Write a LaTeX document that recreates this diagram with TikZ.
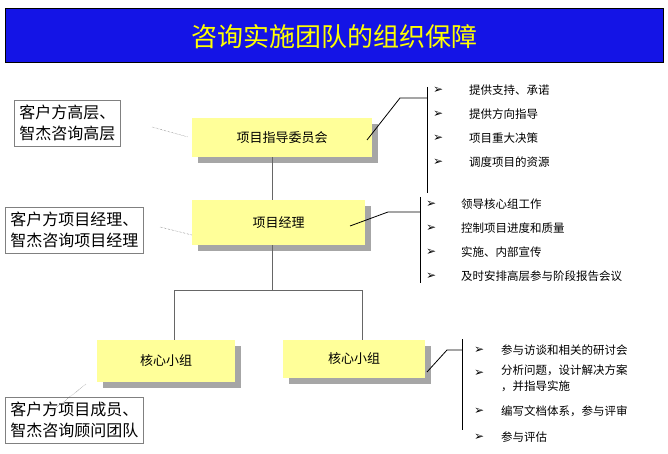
\documentclass[tikz,border=0pt]{standalone}
\usepackage{fontspec}
\newfontfamily\cjk{Noto Sans CJK SC}
\newfontfamily\arrfont{DejaVu Sans}
\definecolor{titleblue}{RGB}{20,20,230}
\definecolor{boxyellow}{RGB}{255,255,153}
\definecolor{titleyellow}{RGB}{255,255,0}
\tikzset{
  unit/.style={draw=none, fill=boxyellow, font=\cjk\fontsize{13}{15}\selectfont, inner sep=0pt},
  label/.style={draw=gray, thick, fill=white, align=left, font=\cjk\fontsize{16}{21}\selectfont, inner sep=5pt},
  item/.style={anchor=west, font=\cjk\fontsize{11.5}{16}\selectfont, align=left, inner sep=0pt},
  tick/.style={anchor=west, font=\arrfont\bfseries\fontsize{12}{12}\selectfont, inner sep=0pt},
  dots/.style={densely dotted, gray!60!black},
  stem/.style={gray!80!black, thick},
}
\begin{document}
\begin{tikzpicture}[x=1pt,y=-1pt]
  \useasboundingbox (0,0) rectangle (668,454);

  % title bar
  \draw[thick, fill=titleblue] (5,8) rectangle (663,62);
  \node[text=titleyellow, font=\cjk\fontsize{26}{30}\selectfont] (title) at (334,37) {咨询实施团队的组织保障};

  % org boxes with shadows
  \fill[gray!70] (198,124) rectangle (378,163);
  \node[unit, minimum width=180pt, minimum height=39pt] (steer) at (282,137.5) {项目指导委员会};
  \fill[gray!70] (198,206) rectangle (371,251);
  \node[unit, minimum width=173pt, minimum height=45pt] (pm) at (278.5,222.5) {项目经理};
  \fill[gray!70] (103,346) rectangle (241,388);
  \node[unit, minimum width=138pt, minimum height=42pt] (coreA) at (166,361) {核心小组};
  \fill[gray!70] (289,346) rectangle (431,384);
  \node[unit, minimum width=142pt, minimum height=38pt] (coreB) at (354,359) {核心小组};

  % tree lines
  \coordinate (fork) at (272,290);
  \draw[stem] (steer.south -| fork) -- (pm.north -| fork);
  \draw[stem] (pm.south -| fork) -- (fork);
  \draw[stem] (174,290) -- (362,290);
  \draw[stem] (174,290) -- (coreA.north -| 174,0);
  \draw[stem] (362,290) -- (coreB.north -| 362,0);

  % side labels
  \node[label, anchor=north west] (lab1) at (14,100) {客户方高层、\\智杰咨询高层};
  \node[label, anchor=north west] (lab2) at (5,207) {客户方项目经理、\\智杰咨询项目经理};
  \node[label, anchor=north west] (lab3) at (5,397) {客户方项目成员、\\智杰咨询顾问团队};
  \draw[dots] (152,127) -- (188,137);
  \draw[dots] (160,227) -- (192,235);
  \draw[dots] (52,411) -- (86,384);

  % bullet lists
  \draw[thick] (427,87) -- (427,193);
  \draw[thick] (367,140) -- (400,98) -- (427,98);
  \foreach \txt [count=\i] in {提供支持、承诺,提供方向指导,项目重大决策,调度项目的资源} {
    \node[tick] (ta\i) at (433,{66+24*\i}) {➢};
    \node[item] (ia\i) at (469,{66+24*\i}) {\txt};
  }
  \draw[thick] (420,197) -- (420,283);
  \draw[thick] (350,226) -- (388,212) -- (420,212);
  \foreach \txt [count=\i] in {领导核心组工作,控制项目进度和质量,实施、内部宣传,及时安排高层参与阶段报告会议} {
    \node[tick] (tb\i) at (426,{180+24*\i}) {➢};
    \node[item] (ib\i) at (461,{180+24*\i}) {\txt};
  }
  \draw[thick] (462,339) -- (462,430);
  \draw[thick] (427,372) -- (447,350) -- (462,350);
  \node[tick] (tc1) at (474,350) {➢};
  \node[item] (ic1) at (501,350) {参与访谈和相关的研讨会};
  \node[tick] (tc2) at (474,373) {➢};
  \node[item, anchor=north west] (ic2) at (501,365) {分析问题，设计解决方案\\，并指导实施};
  \node[tick] (tc3) at (474,411) {➢};
  \node[item] (ic3) at (501,411) {编写文档体系，参与评审};
  \node[tick] (tc4) at (474,437) {➢};
  \node[item] (ic4) at (501,437) {参与评估};
\end{tikzpicture}
\end{document}
